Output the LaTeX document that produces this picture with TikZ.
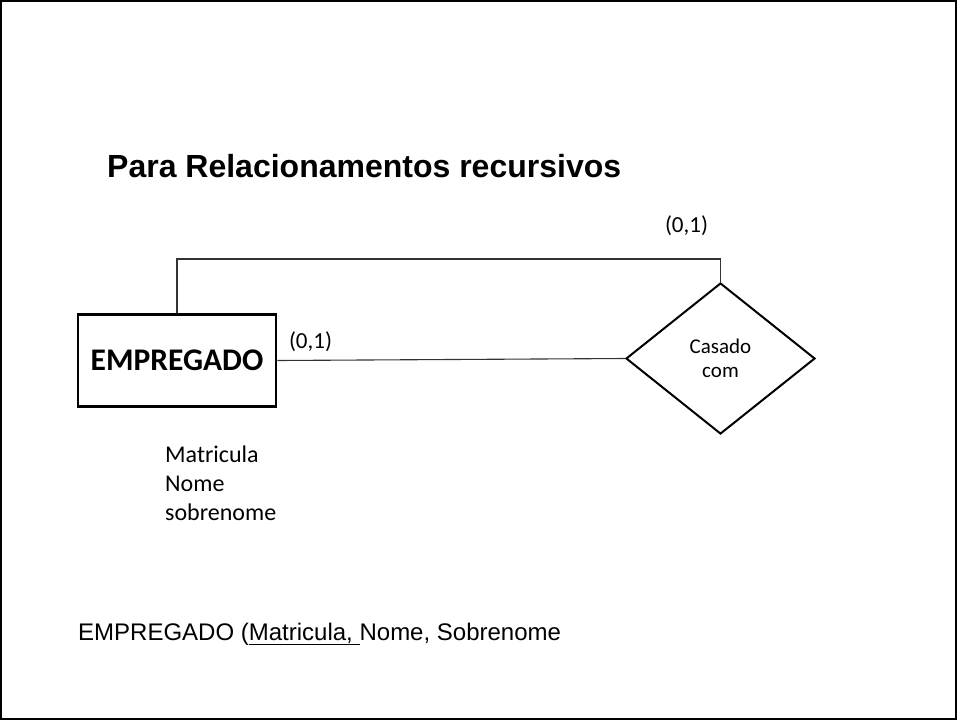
\documentclass[tikz,border=0pt]{standalone}
\usepackage{fontspec}
\setmainfont{Carlito}
\newfontfamily\arialfont{Liberation Sans}
\usetikzlibrary{shapes.geometric}
\tikzset{
  entidade/.style = {shape=rectangle, draw, line width=2.6pt, minimum width=198pt, minimum height=92pt, font=\bfseries\fontsize{31.5}{36}\selectfont},
  relacao/.style = {shape=diamond, draw, line width=2pt, minimum width=189pt, minimum height=151pt, aspect=1.25, inner sep=0pt, align=center, font=\fontsize{21}{24}\selectfont},
  ligacao/.style = {draw=black!80, line width=1.1pt},
  card/.style = {font=\fontsize{23}{26}\selectfont}
}
\begin{document}
\begin{tikzpicture}[x=1pt, y=-1pt]
\useasboundingbox (0,0) rectangle (957,720);
\draw[line width=2pt] (1,1) rectangle (956,719);

\node[anchor=base west, inner sep=0pt, font=\arialfont\bfseries\fontsize{32}{36}\selectfont] (titulo) at (107,177) {Para Relacionamentos recursivos};

\node[entidade] (E) at (177,360.5) {EMPREGADO};
\node[relacao] (R) at (720.5,358.5) {Casado\\com};
\coordinate (topo) at (720.5,259);

\draw[ligacao] (E.north) |- (topo) -- (R.north);
\draw[ligacao] (E.east) -- (R.west);

\node[card] (c1) at (310.5,342) {(0,1)};
\node[card] (c2) at (686.5,226) {(0,1)};

\node[anchor=north west, inner sep=0pt, align=left, font=\fontsize{24}{29}\selectfont] (atrib) at (165,446) {Matricula\\Nome\\sobrenome};

\node[anchor=base west, inner sep=0pt, font=\arialfont\fontsize{24}{28}\selectfont] (esquema) at (78,640) {EMPREGADO (\underline{Matricula,\ }Nome, Sobrenome};
\end{tikzpicture}
\end{document}
